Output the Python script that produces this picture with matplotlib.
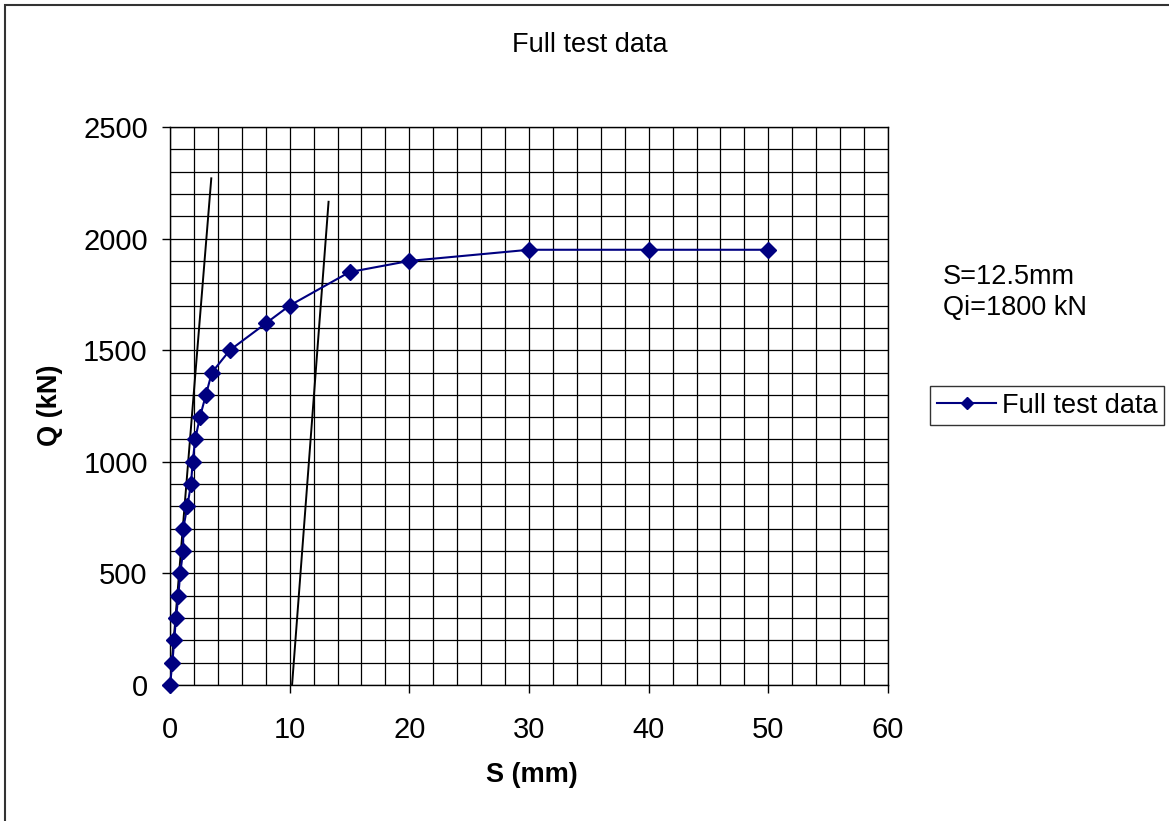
import matplotlib.pyplot as plt
from matplotlib.patches import Rectangle

plt.rcParams['font.family'] = ['Liberation Sans', 'DejaVu Sans']

# pile load test readings
settlement = [0, 0.2, 0.35, 0.5, 0.7, 0.85, 1.1, 1.1, 1.45, 1.75, 1.9, 2.1,
              2.5, 3.0, 3.5, 5.0, 8.0, 10.0, 15.0, 20.0, 30.0, 40.0, 50.0]
load = [0, 100, 200, 300, 400, 500, 600, 700, 800, 900, 1000, 1100,
        1200, 1300, 1400, 1500, 1620, 1700, 1850, 1900, 1950, 1950, 1950]

# elastic line and offset line (end points)
elastic_s = [0, 3.45]
elastic_q = [0, 2270]
offset_s = [10.2, 13.25]
offset_q = [0, 2165]

x_ticks = [0, 10, 20, 30, 40, 50, 60]
y_ticks = [0, 500, 1000, 1500, 2000, 2500]
x_grid = list(range(0, 61, 2))
y_grid = list(range(0, 2501, 100))

fs = 19.5
tick_fs = 21

fig = plt.figure(figsize=(11.69, 8.21), dpi=100)
fig.patches.append(Rectangle((5 / 1169, -0.1), 1.2, 1 - 5 / 821 + 0.1,
                             transform=fig.transFigure, fill=False,
                             edgecolor='#333333', linewidth=1.5))

ax = fig.add_axes([170 / 1169, 1 - 685 / 821, 718 / 1169, 558 / 821])

for g in x_grid:
    ax.axvline(g, color='black', linewidth=0.9, zorder=1)
for g in y_grid:
    ax.axhline(g, color='black', linewidth=0.9, zorder=1)

ax.plot(elastic_s, elastic_q, color='black', linewidth=1.4, zorder=2)
ax.plot(offset_s, offset_q, color='black', linewidth=1.4, zorder=2)
line, = ax.plot(settlement, load, color='#000080', linewidth=1.5,
                marker='D', markersize=8.5, markerfacecolor='#000080',
                markeredgecolor='#000080', zorder=3, clip_on=False,
                label='Full test data')

ax.set_xlim(0, 60)
ax.set_ylim(0, 2500)
ax.set_xticks(x_ticks)
ax.set_yticks(y_ticks)
ax.tick_params(axis='both', direction='out', length=6, width=1,
               labelsize=tick_fs, colors='black')
ax.tick_params(axis='y', pad=10)
ax.tick_params(axis='x', pad=16)
for sp in ax.spines.values():
    sp.set_color('black')
    sp.set_linewidth(1)

fig.text(590 / 1169, 1 - 45 / 821, 'Full test data', ha='center',
         va='center', fontsize=fs)
fig.text(532 / 1169, 1 - 775 / 821, 'S (mm)', ha='center', va='center',
         fontsize=fs, fontweight='bold')
fig.text(50 / 1169, 1 - 405 / 821, 'Q (kN)', ha='center', va='center',
         rotation=90, fontsize=fs, fontweight='bold')
fig.text(943 / 1169, 1 - 277 / 821, 'S=12.5mm', ha='left', va='center',
         fontsize=fs)
fig.text(943 / 1169, 1 - 308 / 821, 'Qi=1800 kN', ha='left', va='center',
         fontsize=fs)

leg = fig.legend(handles=[line], loc='center left',
                 bbox_to_anchor=(930 / 1169, 1 - 405.5 / 821),
                 fontsize=fs, frameon=True, fancybox=False,
                 handlelength=2.2, handletextpad=0.2, borderpad=0.25,
                 borderaxespad=0)
leg.get_frame().set_edgecolor('black')
leg.get_frame().set_linewidth(1)
for h in leg.legend_handles:
    h.set_markersize(6)

fig.savefig('out.png', dpi=100)
